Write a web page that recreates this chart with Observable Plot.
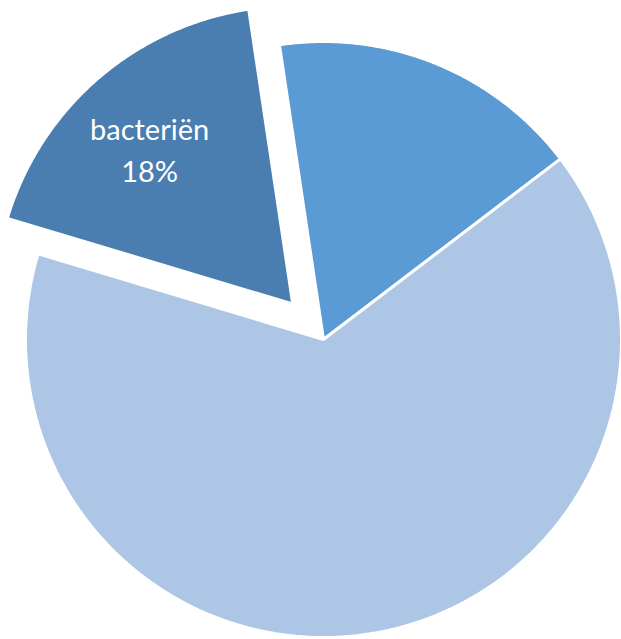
<!DOCTYPE html>
<html>
<head>
<meta charset="utf-8">
<script src="https://cdn.jsdelivr.net/npm/d3@7"></script>
<script src="https://cdn.jsdelivr.net/npm/@observablehq/plot@0.6"></script>
<style>
  html, body { margin: 0; padding: 0; background: #fff; }
  #chart svg { display: block; }
</style>
</head>
<body>
<div id="chart"></div>
<script>
// Data (clockwise from the top, as in the reference)
const categories = ["deel 1", "deel 2", "bacteriën"];
const values = [17, 65, 18];
const colors = ["#5b9bd5", "#adc6e5", "#4a7eb0"];
const exploded = [false, false, true];
const shownLabels = [false, false, true];

// Layout
const W = 621, H = 639;
const cx = 323, cy = 339, R = 298, explodeBy = 47;
const startDeg = -8.5;

const rows = categories.map((name, i) => ({name, value: values[i], i}));
const total = d3.sum(values);
const a0 = startDeg * Math.PI / 180;
const arcs = d3.pie().sort(null).value(d => d.value).startAngle(a0).endAngle(a0 + 2 * Math.PI)(rows);

const pts = [];
const labelRows = [];
for (const a of arcs) {
  const d = a.data;
  const mid = (a.startAngle + a.endAngle) / 2;
  const off = exploded[d.i] ? explodeBy : 0;
  const ox = cx + off * Math.sin(mid), oy = cy - off * Math.cos(mid);
  pts.push({name: d.name, x: ox, y: oy});
  const n = 180;
  for (let k = 0; k <= n; k++) {
    const t = a.startAngle + (a.endAngle - a.startAngle) * k / n;
    pts.push({name: d.name, x: ox + R * Math.sin(t), y: oy - R * Math.cos(t)});
  }
  pts.push({name: d.name, x: ox, y: oy});
  if (shownLabels[d.i]) {
    const lr = 211;
    labelRows.push({
      x: ox + lr * Math.sin(mid),
      y: oy - lr * Math.cos(mid),
      text: `${d.name}\n${Math.round(d.value / total * 100)}%`
    });
  }
}

const chart = Plot.plot({
  width: W,
  height: H,
  margin: 0,
  x: {domain: [0, W], range: [0, W], axis: null},
  y: {domain: [0, H], range: [0, H], axis: null},
  color: {domain: categories, range: colors},
  marks: [
    Plot.line(pts, {x: "x", y: "y", z: "name", fill: "name", stroke: "white", strokeWidth: 3, strokeLinejoin: "miter"}),
    Plot.text(labelRows, {x: "x", y: "y", text: "text", dx: -5, dy: 3, fill: "white", fontSize: 29, fontFamily: "Lato", lineHeight: 1.45})
  ]
});
document.getElementById("chart").append(chart);
</script>
</body>
</html>
